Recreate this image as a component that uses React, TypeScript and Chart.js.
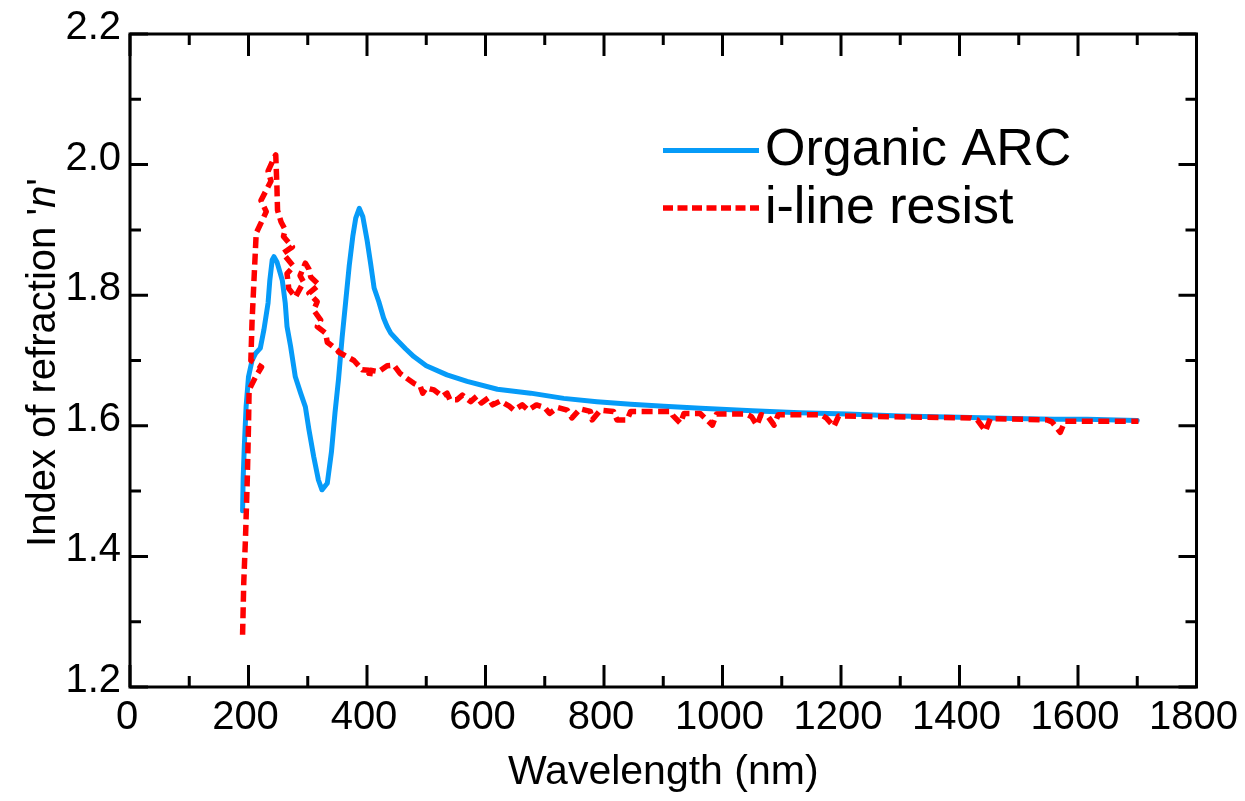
import { useEffect, useRef } from "react";
import { Chart, registerables } from "chart.js";

Chart.register(...registerables);

const FONT = "'Liberation Sans', Arial, Helvetica, sans-serif";

// ---------- data ----------
const seriesLabels = ["Organic ARC", "i-line resist"];
const seriesColors = ["#069BF8", "#FF0000"];

const arcWavelength = [
  190, 191, 193, 196, 200, 206, 212, 220, 226, 233, 236, 240, 243, 248, 257, 262, 265, 271, 279, 288,
  296, 302, 310, 318, 324, 333, 340, 346, 352, 358, 364, 370, 376, 381, 387, 393, 400, 406, 412, 420,
  428, 434, 440, 451, 465, 479, 500, 535, 569, 620, 676, 732, 788, 845, 901, 963, 1050, 1130, 1210,
  1300, 1400, 1491, 1560, 1615, 1700,
];
const arcIndex = [
  1.470, 1.520, 1.570, 1.630, 1.675, 1.700, 1.711, 1.719, 1.747, 1.788, 1.823, 1.854, 1.859, 1.851,
  1.823, 1.788, 1.752, 1.722, 1.675, 1.650, 1.629, 1.594, 1.553, 1.517, 1.502, 1.512, 1.560, 1.620,
  1.672, 1.735, 1.790, 1.845, 1.890, 1.918, 1.933, 1.920, 1.885, 1.849, 1.811, 1.790, 1.765, 1.752,
  1.742, 1.731, 1.718, 1.706, 1.692, 1.678, 1.668, 1.656, 1.650, 1.642, 1.637, 1.633, 1.630, 1.627,
  1.623, 1.620, 1.618, 1.615, 1.613, 1.611, 1.610, 1.610, 1.608,
];

const resistWavelength = [
  190, 192, 195, 198, 200, 201, 212, 222, 204, 206, 209, 213, 230, 221, 238, 233, 243, 246,
  248, 249, 255, 262, 259, 274, 258, 276, 265, 268, 279, 293, 287, 296,
  302, 305, 319, 302, 316, 310, 322, 316, 330, 333, 350, 352, 378, 392, 403, 404, 406, 420, 434, 445,
  456, 479, 490, 494, 500, 513, 527, 535, 540, 552, 561, 575, 585, 593, 605, 612, 625, 640, 648, 662,
  672, 686, 700, 708, 722, 738, 746, 760, 777, 780, 794, 816, 822, 839, 845, 913, 916, 929, 935, 962,
  968, 983, 990, 1040, 1049, 1058, 1065, 1077, 1087, 1094, 1166, 1175, 1188, 1196, 1419, 1430, 1444,
  1452, 1548, 1556, 1570, 1578, 1702,
];
const resistIndex = [
  1.280, 1.360, 1.430, 1.520, 1.600, 1.655, 1.675, 1.690, 1.700, 1.760, 1.818, 1.895, 1.928, 1.945,
  1.975, 1.990, 2.010, 2.015,
  1.965, 1.930, 1.912, 1.900, 1.890, 1.874, 1.864, 1.844, 1.833, 1.810, 1.797, 1.820, 1.830, 1.849,
  1.840, 1.828, 1.816, 1.803, 1.790, 1.777, 1.762, 1.752, 1.742, 1.728, 1.716, 1.713, 1.700, 1.686,
  1.685, 1.673, 1.685, 1.683, 1.692, 1.693,
  1.680, 1.665, 1.660, 1.650, 1.658, 1.655, 1.645, 1.650, 1.640, 1.640, 1.647, 1.637, 1.645, 1.635,
  1.643, 1.632, 1.638, 1.630, 1.624, 1.632,
  1.624, 1.632, 1.628, 1.619, 1.628, 1.624, 1.612, 1.626, 1.622, 1.609, 1.624, 1.622, 1.609, 1.609,
  1.622, 1.622, 1.616, 1.604, 1.619, 1.619,
  1.614, 1.601, 1.618, 1.618, 1.614, 1.601, 1.617, 1.614, 1.601, 1.617, 1.617, 1.612, 1.599, 1.615,
  1.612, 1.609, 1.592,
  1.611, 1.609, 1.606, 1.590, 1.607, 1.607,
];

const xMajorTicks = [0, 200, 400, 600, 800, 1000, 1200, 1400, 1600, 1800];
const yMajorTickLabels = ["1.2", "1.4", "1.6", "1.8", "2.0", "2.2"];
const xAxisTitle = "Wavelength (nm)";
const yAxisTitleParts = ["Index of refraction '", "n", "'"];

// ---------- plugins ----------
const frameTicksPlugin = {
  id: "frameTicks",
  afterDraw(chart: any) {
    const { ctx, chartArea: a, scales } = chart;
    const xs = scales.x;
    const ys = scales.y;
    ctx.save();
    ctx.strokeStyle = "#000";
    ctx.lineWidth = 3;
    ctx.lineCap = "butt";
    ctx.beginPath();
    for (const t of xs.ticks) {
      const px = xs.getPixelForValue(t.value);
      const len = t.label !== "" ? 22 : 11;
      ctx.moveTo(px, a.bottom);
      ctx.lineTo(px, a.bottom - len);
      ctx.moveTo(px, a.top);
      ctx.lineTo(px, a.top + len);
    }
    for (const t of ys.ticks) {
      const py = ys.getPixelForValue(t.value);
      const len = t.label !== "" ? 18 : 11;
      ctx.moveTo(a.left, py);
      ctx.lineTo(a.left + len, py);
      ctx.moveTo(a.right, py);
      ctx.lineTo(a.right - len, py);
    }
    ctx.stroke();
    ctx.lineJoin = "miter";
    ctx.strokeRect(a.left, a.top, a.right - a.left, a.bottom - a.top);
    ctx.restore();
  },
};

const yTitlePlugin = {
  id: "yTitle",
  afterDraw(chart: any) {
    const { ctx, chartArea: a } = chart;
    const normal = `40px ${FONT}`;
    const italic = `italic 40px ${FONT}`;
    const fonts = [normal, italic, normal];
    ctx.save();
    const widths = yAxisTitleParts.map((p, i) => {
      ctx.font = fonts[i];
      return ctx.measureText(p).width;
    });
    const total = widths.reduce((s, w) => s + w, 0);
    const cy = (a.top + a.bottom) / 2 + 2;
    ctx.translate(46.5, cy);
    ctx.rotate(-Math.PI / 2);
    ctx.fillStyle = "#000";
    ctx.textBaseline = "alphabetic";
    ctx.textAlign = "left";
    let x = -total / 2;
    yAxisTitleParts.forEach((p, i) => {
      ctx.font = fonts[i];
      ctx.fillText(p, x, 0);
      x += widths[i];
    });
    ctx.restore();
  },
};

const legendPlugin = {
  id: "insideLegend",
  afterDraw(chart: any) {
    const { ctx, chartArea: a } = chart;
    const x0 = a.left + 533;
    const lineLen = 96;
    const rows = [a.top + 116.5, a.top + 174];
    ctx.save();
    chart.data.datasets.forEach((ds: any, i: number) => {
      const y = rows[i];
      ctx.strokeStyle = ds.borderColor;
      ctx.lineWidth = i === 0 ? 5 : 5.5;
      ctx.lineCap = "butt";
      ctx.setLineDash(i === 0 ? [] : [10, 4.5]);
      ctx.beginPath();
      ctx.moveTo(x0, y);
      ctx.lineTo(x0 + lineLen, y);
      ctx.stroke();
      ctx.setLineDash([]);
      ctx.fillStyle = "#000";
      ctx.font = `52px ${FONT}`;
      ctx.textBaseline = "middle";
      ctx.textAlign = "left";
      ctx.fillText(ds.label, x0 + lineLen + 6, y + 0.5);
    });
    ctx.restore();
  },
};

export default function App() {
  const canvasRef = useRef<HTMLCanvasElement | null>(null);

  useEffect(() => {
    if (!canvasRef.current) return;
    const chart = new Chart(canvasRef.current, {
      type: "line",
      data: {
        datasets: [
          {
            label: seriesLabels[0],
            data: arcWavelength.map((x, i) => ({ x, y: arcIndex[i] })),
            borderColor: seriesColors[0],
            borderWidth: 5,
            pointRadius: 0,
            fill: false,
            tension: 0,
            borderJoinStyle: "round",
            borderCapStyle: "round",
            order: 1,
          },
          {
            label: seriesLabels[1],
            data: resistWavelength.map((x, i) => ({ x, y: resistIndex[i] })),
            borderColor: seriesColors[1],
            borderWidth: 5.5,
            borderDash: [11, 5.5],
            pointRadius: 0,
            fill: false,
            tension: 0,
            borderJoinStyle: "round",
            order: 0,
          },
        ],
      },
      options: {
        animation: false,
        responsive: true,
        maintainAspectRatio: false,
        devicePixelRatio: 1,
        layout: { padding: { top: 26, right: 40.5, left: 0, bottom: 0 } },
        plugins: {
          legend: { display: false },
          tooltip: { enabled: false },
          title: { display: false },
        },
        scales: {
          x: {
            type: "linear",
            min: 0,
            max: 1800,
            grid: { display: false, drawTicks: false },
            border: { display: false },
            ticks: {
              stepSize: 100,
              autoSkip: false,
              maxRotation: 0,
              padding: 7,
              labelOffset: -3,
              color: "#000",
              font: { family: FONT, size: 40 },
              callback: (v: any) =>
                xMajorTicks.includes(Math.round(Number(v))) ? String(Math.round(Number(v))) : "",
            },
            title: {
              display: true,
              text: xAxisTitle,
              color: "#000",
              font: { family: FONT, size: 41, lineHeight: 1 },
              padding: { top: 0, bottom: 0 },
            },
            afterFit: (s: any) => {
              s.height = 106;
              s.paddingLeft = 0;
              s.paddingRight = 0;
            },
          },
          y: {
            type: "linear",
            min: 1.2,
            max: 2.2,
            grid: { display: false, drawTicks: false },
            border: { display: false },
            ticks: {
              stepSize: 0.1,
              autoSkip: false,
              padding: 9,
              labelOffset: -6,
              color: "#000",
              font: { family: FONT, size: 40 },
              callback: (v: any) => {
                const s = (Math.round(Number(v) * 10) / 10).toFixed(1);
                return yMajorTickLabels.includes(s) ? s : "";
              },
            },
            afterFit: (s: any) => {
              s.width = 122;
              s.paddingTop = 0;
              s.paddingBottom = 0;
            },
          },
        },
      },
      plugins: [frameTicksPlugin, yTitlePlugin, legendPlugin],
    } as any);
    return () => chart.destroy();
  }, []);

  return (
    <div style={{ width: 1229, height: 785, position: "relative" }}>
      <canvas ref={canvasRef} />
    </div>
  );
}
